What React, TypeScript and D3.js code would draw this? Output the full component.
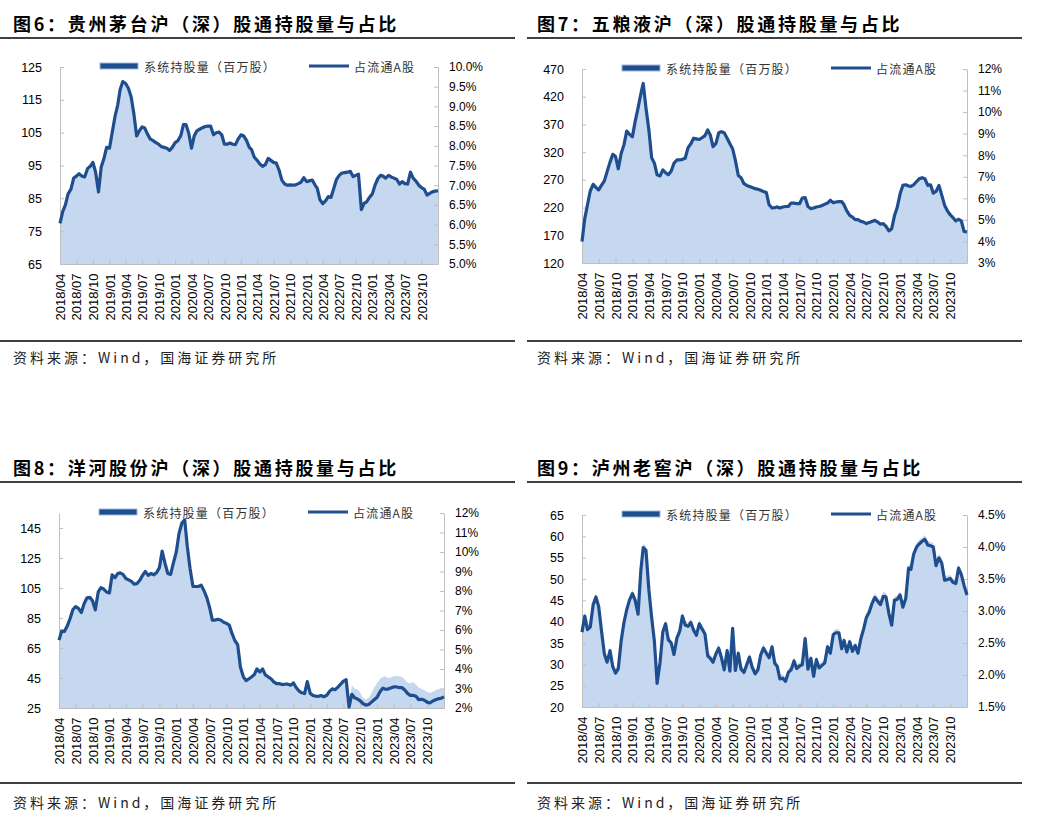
import { useEffect, useRef } from 'react';
import * as d3 from 'd3';

const LINE = '#1f4e8f';
const AREA = '#c6d8ef';
const AXIS = '#bfbfbf';
const CJK = '"Noto Sans CJK SC", "Noto Sans", sans-serif';
const NUM = '"Liberation Sans", Arial, sans-serif';

// quarter ticks on the date axis
const xTickLabels = [
  '2018/04', '2018/07', '2018/10', '2019/01', '2019/04', '2019/07', '2019/10', '2020/01',
  '2020/04', '2020/07', '2020/10', '2021/01', '2021/04', '2021/07', '2021/10', '2022/01',
  '2022/04', '2022/07', '2022/10', '2023/01', '2023/04', '2023/07', '2023/10',
];

// observations on the 1st and 16th of every month, 2018/04/01 .. 2024/01/01
const obsDates: Date[] = d3.timeMonth
  .range(new Date(2018, 3, 1), new Date(2024, 0, 1))
  .flatMap((m) => [m, new Date(m.getFullYear(), m.getMonth(), 16)])
  .concat([new Date(2024, 0, 1)]);

// 图6 贵州茅台
const moutaiShares = [
  77.4, 81, 83, 86.3, 87.8, 91.2, 91.8, 92.5, 91.8, 91.5,
  94, 94.7, 96, 93, 87, 94.5, 97, 100.5, 100.3, 105,
  110, 113.5, 118, 120.5, 120, 118.5, 116, 111, 104, 105.5,
  106.8, 106.4, 104.5, 103, 102.5, 102, 101.5, 100.8, 100.5, 100.3,
  99.5, 100.5, 102, 102.5, 104, 107.5, 107.5, 105, 100.3, 104,
  105.5, 106, 106.5, 106.9, 107, 107, 104.3, 105, 105.2, 104.3,
  101.5, 101.5, 101.8, 101.5, 101.3, 103, 104.3, 104, 102.5, 100.5,
  99.8, 97.5, 96.5, 95.5, 94.7, 95.2, 97.2, 96.5, 96, 95.7,
  93.5, 90.5, 89.3, 89, 89.1, 89, 89.1, 89.5, 90, 91.3,
  90.1, 90.3, 90.6, 89.1, 88, 84.5, 83.3, 84.2, 85.5, 85.3,
  88, 90.8, 92, 92.7, 92.8, 93, 93.2, 91.6, 92, 92.3,
  81.5, 83.5, 84, 85.3, 86.3, 89, 91, 92, 91.8, 91.2,
  92, 91.5, 91.1, 90.8, 89.3, 90.1, 89.5, 89.3, 93, 91.2,
  90.2, 89, 88.3, 87.8, 86, 86.5, 87, 87.2, 87.3,
];
const moutaiPct = [
  6.03, 6.33, 6.5, 6.78, 6.9, 7.18, 7.23, 7.29, 7.23, 7.21,
  7.42, 7.48, 7.58, 7.33, 6.83, 7.46, 7.67, 7.96, 7.94, 8.33,
  8.75, 9.04, 9.42, 9.63, 9.58, 9.46, 9.25, 8.83, 8.25, 8.38,
  8.48, 8.45, 8.29, 8.17, 8.13, 8.08, 8.04, 7.98, 7.96, 7.94,
  7.88, 7.96, 8.08, 8.13, 8.25, 8.54, 8.54, 8.33, 7.94, 8.25,
  8.38, 8.42, 8.46, 8.49, 8.5, 8.5, 8.28, 8.33, 8.35, 8.28,
  8.04, 8.04, 8.07, 8.04, 8.03, 8.17, 8.28, 8.25, 8.13, 7.96,
  7.9, 7.71, 7.63, 7.54, 7.48, 7.52, 7.68, 7.63, 7.58, 7.56,
  7.38, 7.13, 7.03, 7.0, 7.01, 7.0, 7.01, 7.04, 7.08, 7.19,
  7.09, 7.11, 7.13, 7.01, 6.92, 6.63, 6.53, 6.6, 6.71, 6.69,
  6.92, 7.15, 7.25, 7.31, 7.32, 7.33, 7.35, 7.22, 7.25, 7.28,
  6.38, 6.54, 6.58, 6.69, 6.78, 7.0, 7.17, 7.25, 7.23, 7.18,
  7.25, 7.21, 7.18, 7.15, 7.03, 7.09, 7.04, 7.03, 7.33, 7.18,
  7.1, 7.0, 6.94, 6.9, 6.75, 6.79, 6.83, 6.85, 6.86,
];

// 图7 五粮液
const wlyShares = [
  159, 200, 225, 250, 262, 256, 252, 260, 268, 285,
  302, 316, 312, 290, 318, 333, 358, 352, 348, 375,
  400, 425, 444, 400, 360, 310, 300, 279, 277, 288,
  283, 279, 286, 300, 306, 306, 307, 309, 328, 335,
  345, 344, 343, 346, 350, 360, 351, 330, 336, 355,
  357, 355, 345, 335, 326, 305, 278, 274, 263, 260,
  258, 256, 254, 253, 251, 249, 247, 225, 219, 220,
  221, 219, 221, 222, 222, 228, 228, 227, 227, 237,
  238, 222, 218, 219, 221, 222, 224, 226, 228, 233,
  229, 230, 231, 231, 225, 214, 206, 203, 198, 198,
  195, 194, 191, 193, 195, 197, 194, 190, 191, 186,
  178, 182, 205, 220, 245, 260, 261, 259, 258, 261,
  267, 272, 274, 272, 260, 261, 246, 249, 260, 243,
  224, 214, 207, 202, 196, 199, 196, 177, 176,
];
const wlyPct = [
  4.0, 5.06, 5.7, 6.34, 6.65, 6.5, 6.39, 6.6, 6.81, 7.24,
  7.68, 8.04, 7.94, 7.37, 8.09, 8.48, 9.12, 8.97, 8.86, 9.56,
  10.2, 10.84, 11.33, 10.2, 9.17, 7.89, 7.63, 7.09, 7.04, 7.32,
  7.19, 7.09, 7.27, 7.63, 7.78, 7.78, 7.81, 7.86, 8.35, 8.53,
  8.79, 8.76, 8.73, 8.81, 8.91, 9.17, 8.94, 8.4, 8.55, 9.04,
  9.09, 9.04, 8.79, 8.53, 8.3, 7.76, 7.06, 6.96, 6.68, 6.6,
  6.55, 6.5, 6.45, 6.42, 6.37, 6.32, 6.27, 5.7, 5.55, 5.57,
  5.6, 5.55, 5.6, 5.62, 5.62, 5.78, 5.78, 5.75, 5.75, 6.01,
  6.03, 5.62, 5.52, 5.55, 5.6, 5.62, 5.67, 5.73, 5.78, 5.91,
  5.8, 5.83, 5.85, 5.85, 5.7, 5.42, 5.21, 5.13, 5.01, 5.01,
  4.93, 4.9, 4.83, 4.88, 4.93, 4.98, 4.9, 4.8, 4.83, 4.7,
  4.49, 4.59, 5.19, 5.57, 6.21, 6.6, 6.63, 6.57, 6.55, 6.63,
  6.78, 6.91, 6.96, 6.91, 6.6, 6.63, 6.24, 6.32, 6.6, 6.16,
  5.67, 5.42, 5.24, 5.11, 4.95, 5.03, 4.95, 4.47, 4.44,
];

// 图8 洋河股份
const yhShares = [
  70.2, 76.4, 76.1, 79.6, 84.8, 90.7, 92.6, 91.4, 88.7, 94.6,
  98.5, 98.8, 96.5, 90.4, 102.4, 105.2, 104.3, 102.4, 101.7, 113.8,
  111.8, 114.7, 115.1, 114.1, 111.3, 110.4, 109.4, 107.6, 107.9, 110.2,
  113.4, 116, 113.4, 114.7, 113.8, 115.4, 118.6, 129.7, 121.2, 114.7,
  114.1, 121.6, 129, 141.4, 148.5, 150.5, 132.9, 118.2, 106, 106,
  106, 106.9, 103, 98.5, 92, 83.6, 83.6, 84.2, 83.5, 82.2,
  81.4, 80.3, 74.4, 69.9, 67.3, 52.3, 45.8, 43.2, 44.5, 45.8,
  47.1, 51, 49.1, 51, 47.1, 45.8, 44.5, 42.4, 41.3, 41.3,
  40.6, 40.9, 40.9, 40.2, 41.8, 38.7, 36.3, 35.1, 34.6, 42.6,
  34.8, 33.3, 32.9, 32.8, 33.3, 32.5, 33.5, 36.1, 37.7, 37.2,
  38.9, 40.9, 42.9, 43.9, 25.5, 40.2, 37.9, 37.3, 35.3, 31.7,
  30.6, 31.9, 35, 38.6, 41.7, 44.4, 45.7, 46.2, 44.8, 45.3,
  46.2, 46.4, 46.2, 45.7, 44, 41.9, 41.7, 42.2, 40.6, 38.6,
  37.7, 36.8, 35.7, 35, 35.9, 36.8, 37.7, 37.7, 37.9,
];
const yhPct = [
  5.48, 5.95, 5.93, 6.2, 6.6, 7.05, 7.2, 7.11, 6.9, 7.35,
  7.65, 7.68, 7.5, 7.03, 7.95, 8.17, 8.1, 7.95, 7.9, 8.83,
  8.68, 8.9, 8.93, 8.85, 8.64, 8.57, 8.49, 8.35, 8.38, 8.55,
  8.8, 9.0, 8.8, 8.9, 8.83, 8.95, 9.2, 10.05, 9.4, 8.9,
  8.85, 9.43, 10.0, 10.95, 11.5, 11.65, 10.3, 9.17, 8.23, 8.23,
  8.23, 8.3, 8.0, 7.65, 7.15, 6.51, 6.51, 6.55, 6.5, 6.4,
  6.34, 6.25, 5.8, 5.45, 5.25, 4.1, 3.6, 3.4, 3.5, 3.6,
  3.7, 4.0, 3.85, 4.0, 3.7, 3.6, 3.5, 3.34, 3.25, 3.25,
  3.2, 3.22, 3.22, 3.17, 3.29, 3.05, 2.87, 2.78, 2.74, 3.35,
  2.75, 2.64, 2.61, 2.6, 2.64, 2.58, 2.65, 2.85, 2.98, 2.94,
  3.07, 3.22, 3.38, 3.45, 2.05, 2.7, 2.52, 2.46, 2.37, 2.22,
  2.15, 2.18, 2.3, 2.42, 2.55, 2.82, 3.02, 2.96, 2.97, 3.03,
  3.08, 3.08, 3.05, 3.05, 2.92, 2.75, 2.65, 2.65, 2.6, 2.43,
  2.45, 2.4, 2.3, 2.26, 2.36, 2.42, 2.47, 2.5, 2.57,
];

// 图9 泸州老窖
const lzShares = [
  38.5, 42.2, 39.1, 39.8, 44.8, 46.6, 44.3, 38.9, 33.4, 31.4,
  34.2, 30.4, 28.9, 30, 36.4, 40.7, 43.7, 45.9, 47.5, 45.9,
  42.7, 52.9, 58.3, 57.7, 48.4, 41.9, 36.4, 26.3, 31.4, 38.4,
  40.4, 36.7, 35.9, 33.2, 37.1, 38.6, 42.2, 40.1, 39.8, 40.7,
  38.9, 37.7, 40.4, 39.2, 38, 32.9, 32.3, 31.4, 33.4, 34.7,
  32.5, 29.6, 34.1, 29.3, 39.4, 29.5, 33.5, 29.8, 29, 30.8,
  32.6, 30.2, 28.7, 29.6, 33.1, 34.7, 33.5, 32.5, 35, 31.1,
  30.5, 27.5, 27.7, 26.9, 29, 29.6, 31.7, 29.9, 30.5, 30.8,
  37, 29.8, 32.3, 28.1, 32, 30.1, 30.7, 31.3, 35, 33.5,
  37.9, 38.3, 38.3, 34.6, 36.5, 33.8, 36.2, 34, 35.3, 33.5,
  37, 39.2, 41.9, 43.1, 45.2, 46.7, 45.7, 44.9, 47, 46.7,
  42.8, 40.1, 46, 46.1, 47.2, 44.3, 46.4, 53.4, 53.2, 56.7,
  58.5, 59.2, 59.7, 60.3, 58.9, 58.7, 58.4, 54.1, 55.9, 54.7,
  50.6, 50.8, 51, 50.1, 49.9, 53.4, 51.9, 49.4, 47,
];
const lzPct = [
  2.67, 2.92, 2.71, 2.75, 3.1, 3.22, 3.07, 2.7, 2.33, 2.2,
  2.38, 2.13, 2.03, 2.1, 2.54, 2.82, 3.02, 3.17, 3.27, 3.17,
  2.95, 3.63, 3.99, 3.95, 3.33, 2.9, 2.53, 1.87, 2.2, 2.67,
  2.8, 2.55, 2.5, 2.32, 2.58, 2.68, 2.92, 2.78, 2.76, 2.82,
  2.7, 2.62, 2.8, 2.72, 2.64, 2.3, 2.26, 2.2, 2.33, 2.42,
  2.27, 2.08, 2.38, 2.06, 2.73, 2.07, 2.34, 2.09, 2.04, 2.16,
  2.28, 2.12, 2.02, 2.08, 2.31, 2.42, 2.34, 2.27, 2.44, 2.18,
  2.14, 1.94, 1.95, 1.9, 2.04, 2.08, 2.22, 2.1, 2.14, 2.16,
  2.57, 2.09, 2.26, 1.98, 2.24, 2.11, 2.15, 2.19, 2.44, 2.34,
  2.63, 2.66, 2.66, 2.41, 2.54, 2.36, 2.52, 2.37, 2.46, 2.34,
  2.57, 2.72, 2.9, 2.98, 3.12, 3.21, 3.15, 3.1, 3.23, 3.22,
  2.96, 2.78, 3.17, 3.18, 3.25, 3.06, 3.2, 3.67, 3.65, 3.89,
  4.0, 4.05, 4.09, 4.12, 4.03, 4.02, 4.0, 3.71, 3.83, 3.75,
  3.48, 3.49, 3.51, 3.45, 3.43, 3.67, 3.57, 3.4, 3.25,
];

const moutaiLeftTicks = [65, 75, 85, 95, 105, 115, 125];
const moutaiRightTicks = [5, 5.5, 6, 6.5, 7, 7.5, 8, 8.5, 9, 9.5, 10];
const wlyLeftTicks = [120, 170, 220, 270, 320, 370, 420, 470];
const wlyRightTicks = [3, 4, 5, 6, 7, 8, 9, 10, 11, 12];
const yhLeftTicks = [25, 45, 65, 85, 105, 125, 145];
const yhRightTicks = [2, 3, 4, 5, 6, 7, 8, 9, 10, 11, 12];
const lzLeftTicks = [20, 25, 30, 35, 40, 45, 50, 55, 60, 65];
const lzRightTicks = [1.5, 2, 2.5, 3, 3.5, 4, 4.5];

const legendArea = '系统持股量（百万股）';
const legendLine = '占流通A股';
const sourceNote = '资料来源：Wind，国海证券研究所';

interface Panel {
  title: string;
  shares: number[];
  pct: number[];
  leftDomain: [number, number];
  leftTicks: number[];
  rightDomain: [number, number];
  rightTicks: number[];
  rightDigits: number;
  box: { left: number; right: number; top: number; bottom: number };
  frame: { x0: number; x1: number; textX: number; titleY: number; ruleTop: number; ruleBottom: number; sourceY: number };
}

const topFrameL = { x0: 0, x1: 515, textX: 13, titleY: 31, ruleTop: 38, ruleBottom: 341, sourceY: 363 };
const topFrameR = { x0: 527, x1: 1022, textX: 537, titleY: 31, ruleTop: 38, ruleBottom: 341, sourceY: 363 };
const botFrameL = { x0: 0, x1: 515, textX: 13, titleY: 475, ruleTop: 482, ruleBottom: 783, sourceY: 808 };
const botFrameR = { x0: 527, x1: 1022, textX: 537, titleY: 475, ruleTop: 482, ruleBottom: 783, sourceY: 808 };

const panels: Panel[] = [
  {
    title: '图6：贵州茅台沪（深）股通持股量与占比',
    shares: moutaiShares, pct: moutaiPct,
    leftDomain: [65, 125], leftTicks: moutaiLeftTicks,
    rightDomain: [5, 10], rightTicks: moutaiRightTicks, rightDigits: 1,
    box: { left: 60, right: 438, top: 67, bottom: 264 },
    frame: topFrameL,
  },
  {
    title: '图7：五粮液沪（深）股通持股量与占比',
    shares: wlyShares, pct: wlyPct,
    leftDomain: [120, 470], leftTicks: wlyLeftTicks,
    rightDomain: [3, 12], rightTicks: wlyRightTicks, rightDigits: 0,
    box: { left: 582, right: 967, top: 69, bottom: 263 },
    frame: topFrameR,
  },
  {
    title: '图8：洋河股份沪（深）股通持股量与占比',
    shares: yhShares, pct: yhPct,
    leftDomain: [25, 155], leftTicks: yhLeftTicks,
    rightDomain: [2, 12], rightTicks: yhRightTicks, rightDigits: 0,
    box: { left: 59, right: 444, top: 513, bottom: 708 },
    frame: botFrameL,
  },
  {
    title: '图9：泸州老窖沪（深）股通持股量与占比',
    shares: lzShares, pct: lzPct,
    leftDomain: [20, 65], leftTicks: lzLeftTicks,
    rightDomain: [1.5, 4.5], rightTicks: lzRightTicks, rightDigits: 1,
    box: { left: 582, right: 967, top: 515, bottom: 707 },
    frame: botFrameR,
  },
];

const parseTick = d3.timeParse('%Y/%m');

function drawPanel(svg: d3.Selection<SVGSVGElement, unknown, null, undefined>, p: Panel) {
  const { box, frame } = p;
  const g = svg.append('g');

  const x = d3
    .scaleTime()
    .domain([obsDates[0], obsDates[obsDates.length - 1]])
    .range([box.left, box.right]);
  const yL = d3.scaleLinear().domain(p.leftDomain).range([box.bottom, box.top]);
  const yR = d3.scaleLinear().domain(p.rightDomain).range([box.bottom, box.top]);

  // title + rules + source
  g.append('text')
    .attr('x', frame.textX)
    .attr('y', frame.titleY)
    .attr('font-family', CJK)
    .attr('font-weight', 700)
    .attr('font-size', 18)
    .attr('letter-spacing', 2.7)
    .attr('fill', '#000')
    .text(p.title);
  g.append('line')
    .attr('x1', frame.x0).attr('x2', frame.x1)
    .attr('y1', frame.ruleTop).attr('y2', frame.ruleTop)
    .attr('stroke', '#000').attr('stroke-width', 1.3);
  g.append('line')
    .attr('x1', frame.x0).attr('x2', frame.x1)
    .attr('y1', frame.ruleBottom).attr('y2', frame.ruleBottom)
    .attr('stroke', '#000').attr('stroke-width', 1.3);
  g.append('text')
    .attr('x', frame.textX)
    .attr('y', frame.sourceY)
    .attr('font-family', CJK)
    .attr('font-size', 14)
    .attr('letter-spacing', 3)
    .attr('fill', '#222')
    .text(sourceNote);

  // holdings area (left axis)
  const area = d3
    .area<number>()
    .x((_, i) => x(obsDates[i]))
    .y0(box.bottom)
    .y1((d) => yL(d));
  g.append('path').datum(p.shares).attr('d', area).attr('fill', AREA);

  // axes
  const styleAxis = (sel: d3.Selection<SVGGElement, unknown, null, undefined>, size: number) => {
    sel.attr('font-family', NUM).attr('font-size', size);
    sel.select('.domain').attr('stroke', AXIS);
    sel.selectAll('.tick line').attr('stroke', AXIS);
    sel.selectAll('.tick text').attr('fill', '#000');
  };

  const left = g
    .append('g')
    .attr('transform', `translate(${box.left},0)`)
    .call(d3.axisLeft(yL).tickValues(p.leftTicks).tickSize(-4).tickSizeOuter(0).tickPadding(18));
  styleAxis(left, 12.5);

  const right = g
    .append('g')
    .attr('transform', `translate(${box.right},0)`)
    .call(
      d3
        .axisRight(yR)
        .tickValues(p.rightTicks)
        .tickSize(-4)
        .tickSizeOuter(0)
        .tickPadding(11)
        .tickFormat((d) => `${(d as number).toFixed(p.rightDigits)}%`)
    );
  styleAxis(right, 12);

  const tickDates = xTickLabels.map((s) => parseTick(s) as Date);
  const bottom = g
    .append('g')
    .attr('transform', `translate(0,${box.bottom})`)
    .call(
      d3
        .axisBottom(x)
        .tickValues(tickDates)
        .tickSize(-4)
        .tickSizeOuter(0)
        .tickFormat((_, i) => xTickLabels[i])
    );
  styleAxis(bottom, 13);
  bottom
    .selectAll('.tick text')
    .attr('transform', 'rotate(-90)')
    .attr('text-anchor', 'end')
    .attr('x', -9.5)
    .attr('y', 0)
    .attr('dy', '0.35em');

  // share-of-float line (right axis)
  const line = d3
    .line<number>()
    .x((_, i) => x(obsDates[i]))
    .y((d) => yR(d));
  g.append('path')
    .datum(p.pct)
    .attr('d', line)
    .attr('fill', 'none')
    .attr('stroke', LINE)
    .attr('stroke-width', 3.2)
    .attr('stroke-linejoin', 'round');

  // legend
  const ly = box.top - 1;
  g.append('rect')
    .attr('x', box.left + 40).attr('y', ly - 3)
    .attr('width', 38).attr('height', 6)
    .attr('fill', LINE).attr('stroke', '#9db8e0').attr('stroke-width', 1);
  g.append('text')
    .attr('x', box.left + 84).attr('y', ly)
    .attr('dominant-baseline', 'central')
    .attr('font-family', CJK).attr('font-size', 12).attr('letter-spacing', 1.2)
    .attr('fill', '#333')
    .text(legendArea);
  g.append('line')
    .attr('x1', box.left + 249).attr('x2', box.left + 289)
    .attr('y1', ly).attr('y2', ly)
    .attr('stroke', LINE).attr('stroke-width', 3);
  g.append('text')
    .attr('x', box.left + 294).attr('y', ly)
    .attr('dominant-baseline', 'central')
    .attr('font-family', CJK).attr('font-size', 12).attr('letter-spacing', 1.2)
    .attr('fill', '#333')
    .text(legendLine);
}

export default function App() {
  const svgRef = useRef<SVGSVGElement>(null);

  useEffect(() => {
    if (!svgRef.current) return;
    const svg = d3.select(svgRef.current);
    svg.selectAll('*').remove();
    svg.append('rect').attr('width', 1039).attr('height', 827).attr('fill', '#fff');
    panels.forEach((p) => drawPanel(svg, p));
  }, []);

  return (
    <svg
      ref={svgRef}
      width={1039}
      height={827}
      style={{ position: 'absolute', left: 0, top: 0, display: 'block' }}
    />
  );
}
